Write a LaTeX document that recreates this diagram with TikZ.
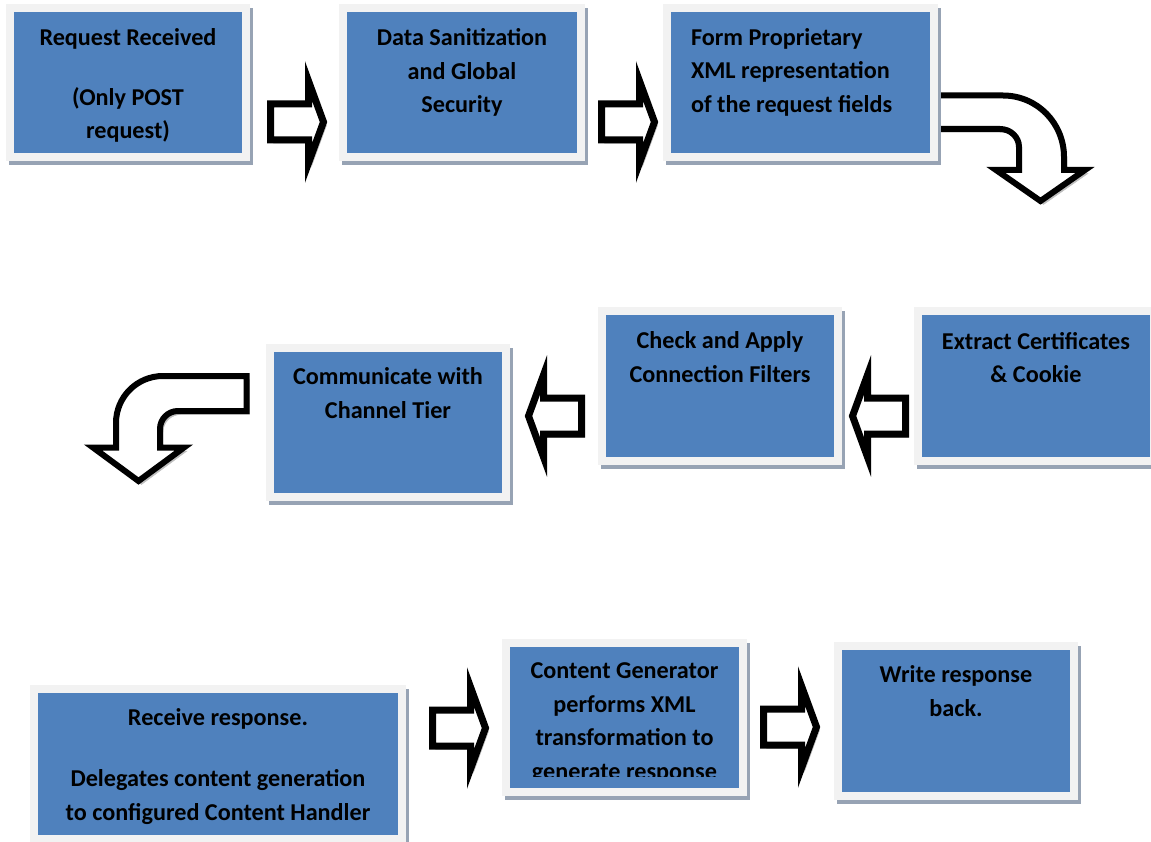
\documentclass[tikz,border=0pt]{standalone}
\usepackage{fontspec}
\usetikzlibrary{positioning,shadows}
\newfontfamily\calibri{Carlito}
\definecolor{boxblue}{RGB}{79,129,189}
\definecolor{framegray}{RGB}{242,242,242}
\definecolor{shadowgray}{RGB}{151,163,180}
\definecolor{arrowshade}{RGB}{190,190,190}
\newcommand{\stepfont}{\calibri\bfseries\fontsize{24.2}{33.5}\selectfont}
\newcommand{\blockarrow}[2]{\draw[arrowbody, shift={(#1)}, xscale=#2] (-26.5,-18) -- (11.5,-18) -- (11.5,-41) -- (26.5,0) -- (11.5,41) -- (11.5,18) -- (-26.5,18) -- cycle;}

\begin{document}
\begin{tikzpicture}[x=1pt, y=-1pt]
    \tikzstyle{stepbox}=[rectangle, fill=framegray, inner sep=0pt, drop shadow={shadow xshift=2.5pt, shadow yshift=-4pt, fill=shadowgray, opacity=1}, path picture={\fill[boxblue] ([xshift=8pt,yshift=8pt]path picture bounding box.south west) rectangle ([xshift=-8pt,yshift=-8pt]path picture bounding box.north east);}]
    \tikzstyle{steptext}=[font=\stepfont, align=center, inner sep=0pt, anchor=north]
    \tikzstyle{arrowbody}=[draw=black, fill=white, line width=7pt, preaction={draw=arrowshade, fill=arrowshade, transform canvas={xshift=3pt, yshift=-3.5pt}}]
    \useasboundingbox (0,0) rectangle (1151,842);
    \draw[arrowbody, line width=6pt] (930,95.5) -- (1003,95.5) .. controls (1037,95.5) and (1064,123) .. (1064,157) -- (1064,170) -- (1085,170) -- (1040.5,201) -- (996,170) -- (1019,170) -- (1019,147) .. controls (1019,137) and (1010.5,129) .. (1000,129) -- (930,129) -- cycle;
    \draw[arrowbody, line width=6pt] (246.5,376) -- (163,376) .. controls (137,376) and (116,397) .. (116,423) -- (116,447.5) -- (93,447.5) -- (138.5,481) -- (184,447.5) -- (160,447.5) -- (160,429) .. controls (160,419) and (168,411) .. (178,411) -- (246.5,411) -- cycle;
    \coordinate (a1) at (297,122);
    \coordinate (a2) at (628,122);
    \coordinate (a3) at (879,416);
    \coordinate (a4) at (555,416);
    \coordinate (a5) at (459,728);
    \coordinate (a6) at (790,727);
    \blockarrow{a1}{1}
    \blockarrow{a2}{1}
    \blockarrow{a3}{-1}
    \blockarrow{a4}{-1}
    \blockarrow{a5}{1}
    \blockarrow{a6}{1}
    \node[stepbox, minimum width=244pt, minimum height=157pt] (req) at (128,82.5) {};
    \node[stepbox, minimum width=246pt, minimum height=157pt] (sani) at (462,82.5) {};
    \node[stepbox, minimum width=275pt, minimum height=157pt] (xmlrep) at (800.5,82.5) {};
    \node[stepbox, minimum width=244pt, minimum height=158pt] (cert) at (1036,386) {};
    \node[stepbox, minimum width=244pt, minimum height=158pt] (filt) at (720,386) {};
    \node[stepbox, minimum width=244pt, minimum height=157pt] (chan) at (388,422.5) {};
    \node[stepbox, minimum width=376pt, minimum height=158pt] (recv) at (218,764) {};
    \node[stepbox, minimum width=245pt, minimum height=157pt] (gen) at (624.5,717.5) {};
    \node[stepbox, minimum width=244pt, minimum height=158pt] (wrt) at (956,721) {};
    \node[steptext, below=24.5pt of req.north] (req-t) {Request Received\\[26.5pt](Only POST\\request)};
    \node[steptext, below=24.5pt of sani.north] (sani-t) {Data Sanitization\\and Global\\Security};
    \node[steptext, align=left, anchor=north west, below right=24.5pt and 28pt of xmlrep.north west] (xmlrep-t) {Form Proprietary\\XML representation\\of the request fields};
    \node[steptext, below=25pt of cert.north] (cert-t) {Extract Certificates\\\& Cookie};
    \node[steptext, below=25pt of filt.north] (filt-t) {Check and Apply\\Connection Filters};
    \node[steptext, below=24pt of chan.north] (chan-t) {Communicate with\\Channel Tier};
    \node[steptext, below=24pt of recv.north] (recv-t) {Receive response.\\[27.5pt]Delegates content generation\\to configured Content Handler};
    \begin{scope}
        \clip ([xshift=8pt,yshift=20pt]gen.south west) rectangle ([xshift=-8pt,yshift=-8pt]gen.north east);
        \node[steptext, below=24pt of gen.north] (gen-t) {Content Generator\\performs XML\\transformation to\\generate response};
    \end{scope}
    \node[steptext, below=24pt of wrt.north] (wrt-t) {Write response\\back.};
\end{tikzpicture}
\end{document}
